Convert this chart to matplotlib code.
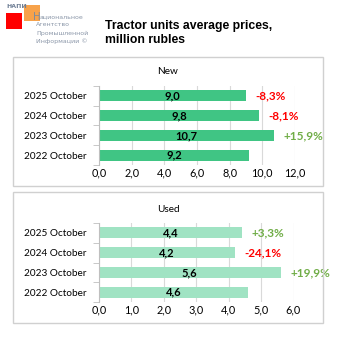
import matplotlib.pyplot as plt
from matplotlib.patches import Rectangle
from matplotlib.ticker import MultipleLocator, FuncFormatter

# data
periods = ['2022 October', '2023 October', '2024 October', '2025 October']
new_prices = [9.2, 10.7, 9.8, 9.0]
new_change = ['', '+15,9%', '-8,1%', '-8,3%']
used_prices = [4.6, 5.6, 4.2, 4.4]
used_change = ['', '+19,9%', '-24,1%', '+3,3%']

W = 338.0
FONT = 'Lato'

fig = plt.figure(figsize=(3.38, 3.38), dpi=100)
fig.patch.set_facecolor('white')


def px_box(x0, y0, x1, y1):
    # pixel box (top-left origin) -> figure rect
    return [x0 / W, 1 - y1 / W, (x1 - x0) / W, (y1 - y0) / W]


def fx(x):
    return x / W


def fy(y):
    return 1 - y / W


# panel frames
for y0, y1 in [(57, 186), (192, 323)]:
    fig.patches.append(Rectangle((fx(13), fy(y1)), fx(323) - fx(13), fy(y0) - fy(y1),
                                 transform=fig.transFigure, fill=False,
                                 edgecolor='#D0D0D0', linewidth=1.0))

# logo
fig.patches.append(Rectangle((fx(6), fy(29)), 16 / W, 16 / W, transform=fig.transFigure,
                             facecolor='#FF0000', edgecolor='none'))
fig.patches.append(Rectangle((fx(24), fy(21)), 16 / W, 16 / W, transform=fig.transFigure,
                             facecolor='#F7A24A', edgecolor='none'))
fig.text(fx(6), fy(7), 'НАПИ', fontsize=4.5, color='#6F7F95', fontweight='bold',
         family='DejaVu Sans', va='center')
fig.text(fx(33), fy(16.5), 'Н', fontsize=7.5, color='#7F8C9E', family='DejaVu Sans', va='center')
fig.text(fx(39.5), fy(17), 'ациональное', fontsize=4.5, color='#8A96A8', family='DejaVu Sans', va='center')
fig.text(fx(36), fy(25), 'Агентство', fontsize=4.5, color='#8A96A8', family='DejaVu Sans', va='center')
fig.text(fx(36), fy(33), 'Промышленной', fontsize=4.5, color='#8A96A8', family='DejaVu Sans', va='center')
fig.text(fx(36), fy(41), 'Информации ©', fontsize=4.5, color='#8A96A8', family='DejaVu Sans', va='center')

# title
fig.text(fx(105), fy(33), 'Tractor units average prices,\nmillion rubles', fontsize=8.8,
         fontweight='bold', family='Liberation Sans', va='center', ha='left', linespacing=1.2)


def draw_panel(rect, values, changes, color, xmax, step, title, title_y):
    ax = fig.add_axes(rect)
    ypos = list(range(len(values)))
    ax.barh(ypos, values, height=0.56, color=color, zorder=3)
    ax.set_ylim(-0.5, len(values) - 0.5)
    ax.set_xlim(0, xmax)
    ax.xaxis.set_major_locator(MultipleLocator(step))
    ax.xaxis.set_major_formatter(FuncFormatter(lambda v, p: f'{v:.1f}'.replace('.', ',')))
    ax.grid(axis='x', color='#D9D9D9', linewidth=0.8, zorder=0)
    for s in ['top', 'right', 'bottom']:
        ax.spines[s].set_visible(False)
    ax.spines['left'].set_color('#BFBFBF')
    ax.spines['left'].set_zorder(4)
    ax.set_yticks(ypos)
    ax.set_yticklabels(periods, fontsize=7.2, family=FONT)
    ax.set_yticks([i - 0.5 for i in range(len(values) + 1)], minor=True)
    ax.tick_params(axis='y', which='major', length=0, pad=9)
    ax.tick_params(axis='y', which='minor', length=4, color='#BFBFBF', direction='out')
    ax.tick_params(axis='x', length=0, labelsize=7.8, pad=2)
    for lab in ax.get_xticklabels():
        lab.set_family(FONT)
    for i, v in enumerate(values):
        ax.text(v / 2, i, f'{v:.1f}'.replace('.', ','), ha='center', va='center',
                fontsize=8, fontweight='bold', family=FONT, zorder=5)
        ch = changes[i]
        if ch:
            c = '#FF0000' if ch.startswith('-') else '#70AD47'
            ax.annotate(ch, (v, i), xytext=(7, 0), textcoords='offset points',
                        ha='left', va='center', fontsize=8.5, fontweight='bold',
                        color=c, family=FONT, annotation_clip=False)
    fig.text(fx(168), fy(title_y), title, ha='center', va='center', fontsize=7.2, family=FONT)
    return ax


draw_panel(px_box(99, 86, 295, 165), new_prices, new_change, '#40C584', 12, 2, 'New', 72)
draw_panel(px_box(99, 223, 293.5, 302), used_prices, used_change, '#A0E3C3', 6, 1, 'Used', 209)

fig.savefig('out.png', dpi=100)
